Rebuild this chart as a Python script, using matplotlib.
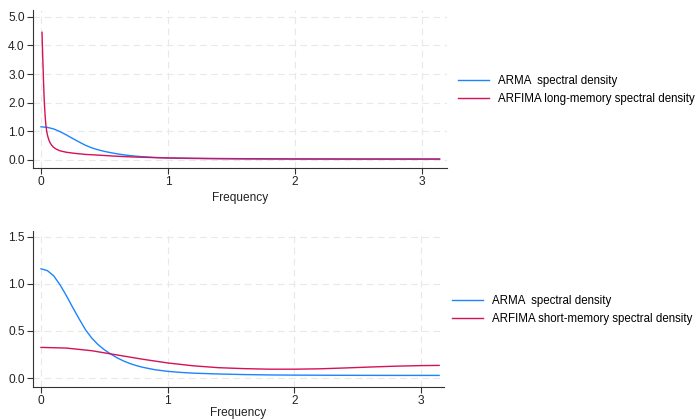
import matplotlib
matplotlib.use("Agg")
import matplotlib.pyplot as plt
from matplotlib.ticker import FormatStrFormatter

# ARMA spectral density (same in both panels)
arma_freq = [0.0, 0.05, 0.1, 0.15, 0.2, 0.25, 0.3, 0.35, 0.4, 0.45, 0.5, 0.55, 0.6, 0.65,
             0.7, 0.75, 0.8, 0.9, 1.0, 1.1, 1.2, 1.4, 1.6, 1.8, 2.0, 2.4, 2.8, 3.1416]
arma_vals = [1.159, 1.14, 1.085, 0.99, 0.875, 0.75, 0.63, 0.515, 0.425, 0.355, 0.30, 0.255,
             0.215, 0.182, 0.155, 0.133, 0.115, 0.088, 0.071, 0.06, 0.052, 0.043, 0.037,
             0.033, 0.031, 0.029, 0.028, 0.028]

# ARFIMA long-memory spectral density
lm_freq = [0.008, 0.012, 0.016, 0.021, 0.025, 0.029, 0.034, 0.039, 0.045, 0.052, 0.062,
           0.073, 0.085, 0.1, 0.12, 0.15, 0.2, 0.26, 0.35, 0.47, 0.6, 0.73, 0.87, 1.0,
           1.3, 1.6, 2.0, 2.5, 3.1416]
lm_vals = [4.46, 3.85, 3.3, 2.6, 2.15, 1.8, 1.45, 1.2, 1.0, 0.85, 0.7,
           0.59, 0.51, 0.44, 0.38, 0.32, 0.27, 0.235, 0.195, 0.165, 0.13, 0.105, 0.085, 0.07,
           0.055, 0.045, 0.038, 0.035, 0.034]

# ARFIMA short-memory spectral density
sm_freq = [0.0, 0.2, 0.4, 0.6, 0.8, 1.0, 1.2, 1.4, 1.6, 1.8, 2.0, 2.2, 2.4, 2.6, 2.8, 3.0, 3.1416]
sm_vals = [0.325, 0.318, 0.29, 0.245, 0.2, 0.16, 0.13, 0.11, 0.1, 0.094, 0.094, 0.098,
           0.107, 0.117, 0.126, 0.132, 0.134]

x_ticks = [0, 1, 2, 3]
top_yticks = [0.0, 1.0, 2.0, 3.0, 4.0, 5.0]
bot_yticks = [0.0, 0.5, 1.0, 1.5]

labels_top = ["ARMA  spectral density", "ARFIMA long-memory spectral density"]
labels_bot = ["ARMA  spectral density", "ARFIMA short-memory spectral density"]

BLUE = "#1a85ff"
PINK = "#d41159"
GRID = "#e8e8e8"
AXC = "#333333"
FS = 8.6
LFS = 8.3

plt.rcParams['font.family'] = ['Liberation Sans', 'DejaVu Sans']

fig = plt.figure(figsize=(7, 4.2), dpi=100)
ax1 = fig.add_axes([33/700, 1-168/420, 414/700, 158/420])
ax2 = fig.add_axes([33/700, 1-387/420, 411/700, 156/420])

def style(ax, yticks, ylim, xlim):
    ax.set_xlim(*xlim)
    ax.set_ylim(*ylim)
    ax.set_xticks(x_ticks)
    ax.set_yticks(yticks)
    for s in ['top', 'right']:
        ax.spines[s].set_visible(False)
    for s in ['left', 'bottom']:
        ax.spines[s].set_color(AXC)
        ax.spines[s].set_linewidth(0.8)
    ax.tick_params(direction='out', length=4, width=0.8, color=AXC, labelsize=FS,
                   labelcolor='#222222', pad=2)
    ax.grid(True, color=GRID, linestyle=(0, (6, 4)), linewidth=0.8)
    ax.set_axisbelow(True)
    ax.set_xlabel("Frequency", fontsize=FS, labelpad=3, color='#222222')

l1, = ax1.plot(arma_freq, arma_vals, color=BLUE, lw=1.0)
l2, = ax1.plot(lm_freq, lm_vals, color=PINK, lw=1.0)
style(ax1, top_yticks, (-0.28, 5.24), (-0.063, 3.20))
ax1.yaxis.set_major_formatter(FormatStrFormatter('%.1f'))

m1, = ax2.plot(arma_freq, arma_vals, color=BLUE, lw=1.0)
m2, = ax2.plot(sm_freq, sm_vals, color=PINK, lw=1.0)
style(ax2, bot_yticks, (-0.095, 1.56), (-0.063, 3.18))
ax2.yaxis.set_major_formatter(FormatStrFormatter('%.1f'))
ax2.xaxis.labelpad = -0.5

leg_kw = dict(loc='center left', frameon=False, fontsize=LFS, handlelength=2.7,
              handletextpad=0.8, labelspacing=0.5, borderaxespad=0, borderpad=0)
fig.legend([l1, l2], labels_top, bbox_to_anchor=(458/700, 1-90/420),
           bbox_transform=fig.transFigure, **leg_kw)
fig.legend([m1, m2], labels_bot, bbox_to_anchor=(452/700, 1-310/420),
           bbox_transform=fig.transFigure, **leg_kw)

fig.savefig("out.png", dpi=100)
